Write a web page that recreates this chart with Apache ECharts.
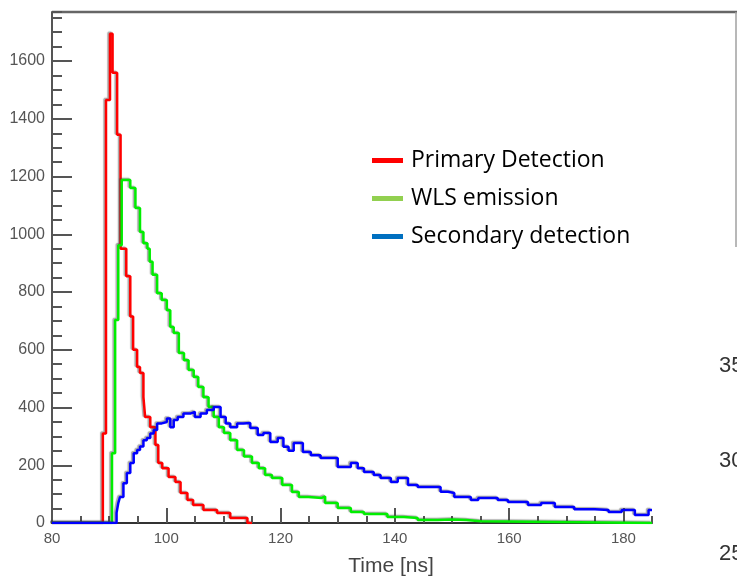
<!DOCTYPE html>
<html>
<head>
<meta charset="utf-8">
<script src="https://cdn.jsdelivr.net/npm/echarts@6/dist/echarts.min.js"></script>
<style>
html, body {margin: 0; padding: 0; background: #ffffff;}
#echarts-time-spectrum {width: 737px; height: 578px;}
</style>
</head>
<body>
<div id="echarts-time-spectrum"></div>
<script>
//----------------------Data----------------------
// bin left edges [ns] and counts
let primary_time = [80, 88.9, 89.45, 90.15, 90.6, 91.4, 92.0, 93.0, 93.7, 94.2, 94.9, 95.4, 96.0, 96.3, 97.2, 98.1, 98.6, 99.3, 100.4, 101.6, 102.5, 103.7, 104.7, 106.5, 108.9, 111.2, 114.2];
let primary_count = [0, 310, 1465, 1695, 1560, 1345, 950, 855, 715, 600, 540, 520, 436, 367, 332, 270, 208, 190, 159, 142, 104, 80, 62, 45, 35, 17, 0];
let primary_end = 115;

let wls_time = [80, 90.5, 91.05, 91.6, 92.2, 93.7, 94.6, 95.4, 96.0, 96.7, 97.1, 97.6, 98.4, 99.2, 100.1, 100.7, 101.3, 102.2, 103.1, 103.9, 104.8, 105.6, 106.5, 107.4, 108.3, 109.2, 110.1, 111.2, 112.4, 113.6, 115.0, 116.2, 117.3, 118.5, 120.3, 122.0, 123.2, 124.9, 127.2, 127.8, 130.0, 132.3, 134.6, 138.7, 141.6, 144.0, 147.5, 150.0, 152.5, 155.0];
let wls_count = [0, 242, 703, 962, 1188, 1160, 1091, 1008, 969, 950, 905, 860, 796, 772, 737, 679, 658, 589, 564, 530, 506, 471, 436, 402, 367, 332, 312, 287, 253, 230, 208, 190, 166, 156, 132, 107, 90, 87, 92, 69, 52, 38, 31, 21, 17, 10, 12, 10, 6, 0];
let wls_end = 185;

let secondary_time = [80, 91.3, 91.6, 91.9, 92.5, 93.1, 93.7, 94.3, 94.9, 95.4, 96.0, 96.6, 97.2, 97.8, 98.4, 99.2, 100.1, 100.7, 101.3, 102.0, 103.0, 104.2, 105.0, 106.0, 107.1, 108.3, 109.5, 110.4, 111.2, 112.4, 113.5, 114.7, 116.0, 117.0, 118.2, 119.5, 120.5, 121.4, 122.3, 123.9, 125.3, 127.0, 130.0, 132.3, 133.5, 134.6, 136.3, 137.5, 139.3, 140.5, 142.3, 144.0, 148.0, 149.3, 150.4, 153.3, 154.6, 158.0, 159.8, 163.3, 165.6, 168.0, 171.4, 175.0, 177.4, 179.7, 182.0, 184.4];
let secondary_count = [0, 35, 69, 90, 138, 173, 208, 242, 253, 265, 287, 294, 310, 322, 345, 350, 362, 332, 357, 367, 379, 385, 367, 379, 391, 402, 367, 345, 332, 345, 346, 329, 305, 312, 281, 294, 264, 250, 277, 246, 235, 225, 194, 208, 190, 177, 166, 156, 142, 156, 132, 125, 108, 104, 90, 80, 87, 80, 73, 62, 69, 55, 48, 45, 38, 45, 28, 45];
let secondary_end = 185;

let series_names = ["Primary Detection", "WLS emission", "Secondary detection"];
let side_labels = ["35", "30", "25"];

//--------------------Location--------------------
let spectrum_chart_dom = document.getElementById("echarts-time-spectrum");
let spectrum_chart = echarts.init(spectrum_chart_dom);

let x_min = 80;
let x_max = 185;
let y_min = 0;
let y_max = 1770;

//----------------------Grid----------------------
let spectrum_chart_grid = {
    left: 52,
    top: 12,
    right: 85,
    bottom: 55,
    containLabel: false,
    outerBoundsMode: 'none',
};

//----------------------Axis----------------------
let axis_font = "'Liberation Sans', Arial, sans-serif";
let plain_number = function (value) {
    return String(value);
};
let spectrum_chart_xAxis = [
    {
        type: 'value',
        position: 'bottom',
        min: x_min,
        max: x_max,
        interval: 20,
        axisLine: {show: true, onZero: false, lineStyle: {color: '#333333', width: 2}},
        axisTick: {show: true, inside: true, length: 15, lineStyle: {color: '#555555', width: 2}},
        axisLabel: {show: true, showMaxLabel: false, margin: 8, color: '#555555', fontSize: 15, fontFamily: axis_font, formatter: plain_number},
        splitLine: {show: false},
        name: 'Time [ns]',
        nameLocation: 'middle',
        nameGap: 33,
        nameTextStyle: {color: '#444444', fontSize: 21, fontFamily: axis_font, padding: [0, 0, 0, 78]},
    },
    {
        type: 'value',
        position: 'bottom',
        min: x_min,
        max: x_max,
        interval: 5,
        axisLine: {show: false, onZero: false},
        axisTick: {show: true, inside: true, length: 7, lineStyle: {color: '#555555', width: 2}},
        axisLabel: {show: false},
        splitLine: {show: false},
    },
];
let spectrum_chart_yAxis = [
    {
        type: 'value',
        position: 'left',
        min: y_min,
        max: y_max,
        interval: 200,
        axisLine: {show: true, onZero: false, lineStyle: {color: '#555555', width: 2}},
        axisTick: {show: true, inside: true, length: 20, lineStyle: {color: '#555555', width: 2}},
        axisLabel: {show: true, showMaxLabel: false, margin: 7, color: '#555555', fontSize: 16, fontFamily: axis_font, formatter: plain_number},
        splitLine: {show: false},
    },
    {
        type: 'value',
        position: 'left',
        min: y_min,
        max: y_max,
        interval: 50,
        axisLine: {show: false, onZero: false},
        axisTick: {show: true, inside: true, length: 10, lineStyle: {color: '#555555', width: 2}},
        axisLabel: {show: false},
        splitLine: {show: false},
    },
];

//---------------------Series---------------------
function histogram_points(times, counts, end_time) {
    let points = [];
    for (let i = 0; i < times.length; i++) {
        points.push([times[i], counts[i]]);
    }
    points.push([end_time, counts[counts.length - 1]]);
    return points;
}

let series_data = [
    histogram_points(primary_time, primary_count, primary_end),
    histogram_points(wls_time, wls_count, wls_end),
    histogram_points(secondary_time, secondary_count, secondary_end),
];
let line_colors = ['#ff0000', '#00ee00', '#0000ff'];
let legend_colors = ['#ff0000', '#92d050', '#0070c0'];

let spectrum_chart_list = [];
for (let key in series_data) {
    spectrum_chart_list.push({
        name: series_names[key],
        type: 'line',
        step: 'end',
        xAxisIndex: 0,
        yAxisIndex: 0,
        showSymbol: false,
        symbol: 'none',
        clip: true,
        itemStyle: {color: legend_colors[key]},
        lineStyle: {
            color: line_colors[key],
            width: 2.5,
            shadowColor: 'rgba(60,60,60,0.45)',
            shadowBlur: 1,
            shadowOffsetX: -1.5,
            shadowOffsetY: -1,
        },
        data: series_data[key],
    });
}

//---------------------Legend---------------------
let legend_list = [];
for (let key in series_names) {
    legend_list.push({
        name: series_names[key],
        icon: 'rect',
        itemStyle: {color: legend_colors[key]},
    });
}
let spectrum_chart_legend = {
    orient: 'vertical',
    left: 372,
    top: 149,
    padding: 0,
    itemWidth: 31,
    itemHeight: 5,
    itemGap: 15,
    data: legend_list,
    textStyle: {color: '#000000', fontSize: 23, fontFamily: "'Open Sans', sans-serif", padding: [0, 0, 0, 3], lineHeight: 23},
};

//--------------------Graphic---------------------
let side_graphic = [];
let side_label_y = [367, 462, 555];
for (let key in side_labels) {
    side_graphic.push({
        type: 'text',
        left: 719,
        top: side_label_y[key] - 12,
        style: {text: side_labels[key], fill: '#333333', font: "22px 'Liberation Sans', Arial, sans-serif"},
    });
}
side_graphic.push({
    type: 'line',
    shape: {x1: 52, y1: 12, x2: 737, y2: 12},
    style: {stroke: '#666666', lineWidth: 2.5},
});
side_graphic.push({
    type: 'line',
    shape: {x1: 736, y1: 12, x2: 736, y2: 247},
    style: {stroke: '#a0a0a0', lineWidth: 1.5},
});

//------------------Generate Graph------------------
let spectrum_chart_option = {
    backgroundColor: '#ffffff',
    animation: false,
    grid: spectrum_chart_grid,
    xAxis: spectrum_chart_xAxis,
    yAxis: spectrum_chart_yAxis,
    legend: spectrum_chart_legend,
    series: spectrum_chart_list,
    graphic: side_graphic,
    tooltip: {show: false},
};
if (spectrum_chart_option && typeof spectrum_chart_option === "object") {
    spectrum_chart.setOption(spectrum_chart_option, true);
}
</script>
</body>
</html>
